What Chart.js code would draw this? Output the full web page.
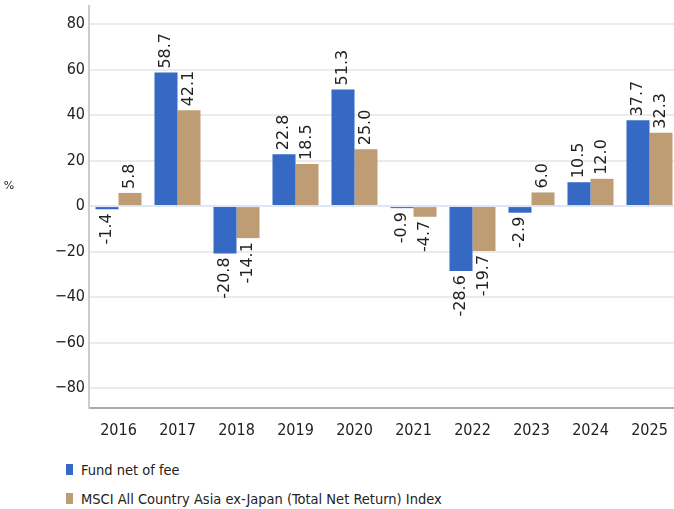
<!DOCTYPE html>
<html>
<head>
<meta charset="utf-8">
<script src="https://cdn.jsdelivr.net/npm/chart.js@4/dist/chart.umd.min.js"></script>
<style>
  body { margin: 0; background: #fff; overflow: hidden; }
  #wrap { width: 679px; height: 440px; position: relative; }
  #legend { margin: 15px 0 0 66px; font-family: "DejaVu Sans", sans-serif; font-stretch: condensed; font-size: 14.5px; color: #222; }
  .legend-item { display: flex; align-items: center; height: 29px; }
  .legend-box { width: 7px; height: 11px; margin-right: 8px; }
</style>
</head>
<body>
<div id="wrap"><canvas id="returnsChart"></canvas></div>
<div id="legend"></div>
<script>
// Data
const years = ["2016", "2017", "2018", "2019", "2020", "2021", "2022", "2023", "2024", "2025"];
const fundReturns = [-1.4, 58.7, -20.8, 22.8, 51.3, -0.9, -28.6, -2.9, 10.5, 37.7];
const indexReturns = [5.8, 42.1, -14.1, 18.5, 25.0, -4.7, -19.7, 6.0, 12.0, 32.3];
const yTicks = [80, 60, 40, 20, 0, -20, -40, -60, -80];
const seriesNames = ["Fund net of fee", "MSCI All Country Asia ex-Japan (Total Net Return) Index"];
const seriesColors = ["#3569c4", "#bf9d74"];

// Value labels drawn rotated above / below each bar
const barLabels = {
  id: "barLabels",
  afterDatasetsDraw(chart) {
    const ctx = chart.ctx;
    ctx.save();
    ctx.font = "16px 'DejaVu Sans', Verdana, sans-serif";
    ctx.fillStyle = "#222";
    ctx.textBaseline = "middle";
    chart.data.datasets.forEach((ds, i) => {
      chart.getDatasetMeta(i).data.forEach((bar, j) => {
        const v = ds.data[j];
        ctx.save();
        if (v >= 0) {
          ctx.translate(bar.x, bar.y - 4);
          ctx.textAlign = "left";
        } else {
          ctx.translate(bar.x, bar.y + 4);
          ctx.textAlign = "right";
        }
        ctx.rotate(-Math.PI / 2);
        ctx.fillText(v.toFixed(1), 0, 0);
        ctx.restore();
      });
    });
    // unit label on the left
    ctx.font = "11px 'DejaVu Sans', sans-serif";
    ctx.textAlign = "center";
    ctx.fillText("%", 9, 186);
    ctx.restore();
  },
};

// "condensed" rides in the weight slot (style gets validated) so the canvas picks the narrow face
const axisFont = { family: "'DejaVu Sans', sans-serif", weight: "condensed", size: 16 };

new Chart(document.getElementById("returnsChart"), {
  type: "bar",
  data: {
    labels: years,
    datasets: [
      { label: seriesNames[0], data: fundReturns, backgroundColor: seriesColors[0] },
      { label: seriesNames[1], data: indexReturns, backgroundColor: seriesColors[1] },
    ],
  },
  options: {
    responsive: true,
    maintainAspectRatio: false,
    animation: false,
    layout: { padding: { top: 6, right: 0, left: 0, bottom: 0 } },
    datasets: { bar: { barPercentage: 1, categoryPercentage: 0.78 } },
    plugins: { legend: { display: false }, tooltip: { enabled: false } },
    scales: {
      x: {
        grid: { display: false },
        border: { color: "#aaaaaa", width: 2 },
        ticks: { font: axisFont, color: "#222", padding: 5, maxRotation: 0 },
        afterFit: (s) => { s.height = 32; s.paddingLeft = 0; s.paddingRight = 0; },
      },
      y: {
        min: -88.8,
        max: 88,
        afterBuildTicks: (s) => { s.ticks = yTicks.map((v) => ({ value: v })); },
        grid: {
          drawTicks: false,
          color: (c) => (c.tick && c.tick.value === 0 ? "#dde7f7" : "#ebebeb"),
          lineWidth: 2,
        },
        border: { color: "#cccccc", width: 2 },
        ticks: {
          font: axisFont,
          color: "#222",
          padding: 4,
          callback: (v) => String(v).replace("-", "\u2212"),
        },
        afterFit: (s) => { s.width = 89; s.paddingTop = 0; s.paddingBottom = 0; },
      },
    },
  },
  plugins: [barLabels],
});

// Legend
const legend = document.getElementById("legend");
seriesNames.forEach((name, i) => {
  const item = document.createElement("div");
  item.className = "legend-item";
  item.innerHTML = `<span class="legend-box" style="background:${seriesColors[i]}"></span>${name}`;
  legend.appendChild(item);
});
</script>
</body>
</html>
